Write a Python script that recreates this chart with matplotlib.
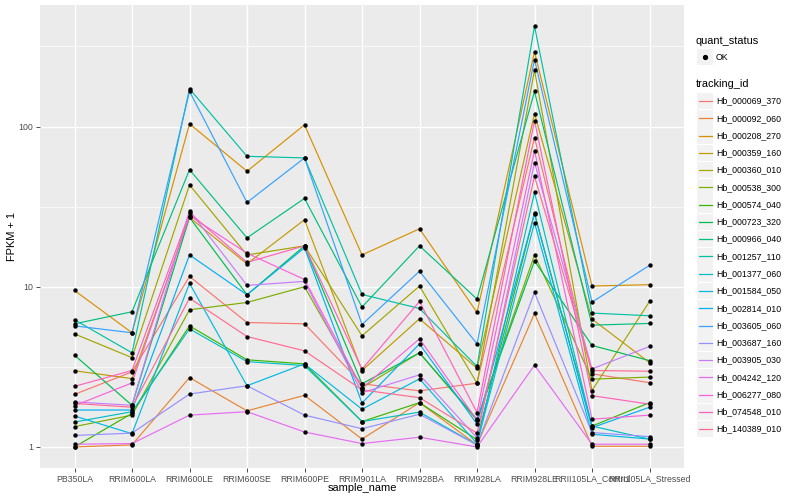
import numpy as np
import matplotlib
matplotlib.use('Agg')
import matplotlib.pyplot as plt
from matplotlib.lines import Line2D
from matplotlib.patches import Rectangle

plt.rcParams['font.family'] = ['Liberation Sans', 'DejaVu Sans']

samples = ['PB350LA', 'RRIM600LA', 'RRIM600LE', 'RRIM600SE', 'RRIM600PE', 'RRIM901LA',
           'RRIM928BA', 'RRIM928LA', 'RRIM928LE', 'RRII105LA_Control', 'RRII105LA_Stressed']

tracking_ids = ['Hb_000069_370', 'Hb_000092_060', 'Hb_000208_270', 'Hb_000359_160',
                'Hb_000360_010', 'Hb_000538_300', 'Hb_000574_040', 'Hb_000723_320',
                'Hb_000966_040', 'Hb_001257_110', 'Hb_001377_060', 'Hb_001584_050',
                'Hb_002814_010', 'Hb_003605_060', 'Hb_003687_160', 'Hb_003905_030',
                'Hb_004242_120', 'Hb_006277_080', 'Hb_074548_010', 'Hb_140389_010']

# ggplot hue palette for 20 levels
colors = ['#F8766D', '#EA8331', '#D89000', '#C09B00', '#A3A500', '#7CAE00', '#39B600',
          '#00BB4E', '#00BF7D', '#00C1A3', '#00BFC4', '#00BAE0', '#00B0F6', '#35A2FF',
          '#9590FF', '#C77CFF', '#E76BF3', '#FA62DB', '#FF62BC', '#FF6C91']

# FPKM + 1, one list per tracking_id, in sample order
hb_000069_370 = [2.13, 2.94, 11.6, 5.98, 5.87, 2.48, 2.24, 2.50, 85.3, 2.86, 2.52]
hb_000092_060 = [1.00, 1.03, 2.71, 1.68, 2.10, 1.12, 1.89, 1.03, 6.81, 1.01, 1.01]
hb_000208_270 = [9.48, 5.16, 104, 52.6, 102.5, 15.8, 23.0, 6.91, 293, 10.1, 10.3]
hb_000359_160 = [2.99, 2.67, 27.1, 13.9, 26.2, 3.00, 6.31, 3.10, 120.6, 6.28, 3.36]
hb_000360_010 = [5.08, 3.61, 43.2, 15.8, 18.0, 4.94, 10.1, 2.50, 225, 2.25, 8.09]
hb_000538_300 = [1.34, 1.58, 7.18, 7.98, 10.0, 2.34, 3.87, 1.47, 15.8, 2.65, 2.73]
hb_000574_040 = [1.00, 1.62, 5.70, 3.50, 3.30, 1.44, 1.89, 1.11, 28.7, 1.35, 1.89]
hb_000723_320 = [3.74, 1.82, 27.1, 8.91, 18.0, 2.48, 3.87, 1.49, 14.5, 4.30, 3.46]
hb_000966_040 = [5.87, 6.98, 53.8, 20.2, 35.6, 7.47, 18.0, 8.38, 165.5, 5.76, 5.90]
hb_001257_110 = [6.22, 3.87, 172, 65.2, 63.7, 8.95, 7.32, 3.18, 424, 6.85, 6.59]
hb_001377_060 = [1.43, 1.66, 5.46, 3.41, 3.22, 1.44, 1.65, 1.03, 38.8, 1.35, 1.12]
hb_001584_050 = [1.56, 1.21, 10.5, 2.41, 3.30, 1.72, 2.66, 1.05, 25.1, 1.20, 1.12]
hb_002814_010 = [1.70, 1.70, 15.8, 8.91, 17.5, 1.88, 4.40, 1.39, 28.6, 1.32, 1.77]
hb_003605_060 = [5.70, 5.16, 166, 33.6, 63.7, 5.81, 12.5, 4.40, 262, 8.02, 13.6]
hb_003687_160 = [1.18, 1.22, 2.14, 2.41, 1.58, 1.30, 1.60, 1.03, 9.21, 1.23, 1.16]
hb_003905_030 = [1.91, 1.82, 29.9, 10.2, 10.8, 2.18, 2.82, 1.14, 59.6, 3.07, 4.24]
hb_004242_120 = [1.04, 1.05, 1.58, 1.66, 1.24, 1.05, 1.15, 1.00, 3.24, 1.04, 1.04]
hb_006277_080 = [1.81, 2.51, 27.8, 16.2, 11.1, 2.33, 4.73, 1.47, 70.8, 1.49, 1.58]
hb_074548_010 = [2.39, 3.00, 28.9, 14.2, 18.0, 3.06, 8.09, 1.64, 109, 2.09, 1.85]
hb_140389_010 = [1.87, 1.77, 8.48, 4.89, 3.98, 2.27, 2.03, 1.22, 48.9, 3.00, 2.97]

series = [hb_000069_370, hb_000092_060, hb_000208_270, hb_000359_160, hb_000360_010,
          hb_000538_300, hb_000574_040, hb_000723_320, hb_000966_040, hb_001257_110,
          hb_001377_060, hb_001584_050, hb_002814_010, hb_003605_060, hb_003687_160,
          hb_003905_030, hb_004242_120, hb_006277_080, hb_074548_010, hb_140389_010]

W, H = 800, 500
fig = plt.figure(figsize=(8, 5), dpi=100)
ax = fig.add_axes([40 / W, 1 - 468 / H, 644 / W, 463 / H])
ax.set_facecolor('#EBEBEB')

x = np.arange(len(samples))
for vals, c in zip(series, colors):
    ax.plot(x, vals, color=c, lw=0.85, zorder=3)
for vals in series:
    ax.scatter(x, vals, s=10, color='black', zorder=4, linewidths=0)

ax.set_yscale('log')
allv = np.log10(np.concatenate([np.array(s, dtype=float) for s in series]))
lo, hi = allv.min(), allv.max()
pad = 0.05 * (hi - lo)
ax.set_ylim(10 ** (lo - pad), 10 ** (hi + pad))
ax.set_xlim(-0.6, len(samples) - 0.4)

ax.set_yticks([1, 10, 100])
ax.set_yticklabels(['1', '10', '100'])
ax.set_yticks([10 ** 0.5, 10 ** 1.5, 10 ** 2.5], minor=True)
ax.yaxis.set_minor_formatter(plt.NullFormatter())
ax.set_xticks(x)
ax.set_xticklabels(samples)

ax.grid(which='major', color='white', lw=1.0)
ax.grid(which='minor', axis='y', color='white', lw=0.5)
ax.set_axisbelow(True)
for sp in ax.spines.values():
    sp.set_visible(False)
ax.tick_params(which='major', length=2.7, width=0.6, color='#333333',
               labelsize=6.3, labelcolor='#4D4D4D', pad=2)
ax.tick_params(which='minor', length=0)

ax.set_xlabel('sample_name', fontsize=7.9)
ax.set_ylabel('FPKM + 1', fontsize=7.9)
ax.xaxis.set_label_coords(0.5, -(488 - 468) / 463)
ax.yaxis.set_label_coords(-(40 - 12) / 644, 0.5)
ax.xaxis.label.set_va('center')
ax.yaxis.label.set_va('center')

# legends, drawn ggplot style on the right
def fx(px):
    return px / W

def fy(py):
    return 1 - py / H

fig.text(fx(696), fy(41), 'quant_status', fontsize=7.9, va='center', ha='left')
fig.patches.append(Rectangle((fx(697), fy(65)), 16 / W, 16 / H, transform=fig.transFigure,
                             facecolor='#F2F2F2', edgecolor='none'))
fig.lines.append(Line2D([fx(705)], [fy(57)], marker='o', markersize=2.8, color='black',
                        linestyle='none', transform=fig.transFigure))
fig.text(fx(716), fy(57), 'OK', fontsize=6.3, va='center', ha='left')

fig.text(fx(696), fy(84), 'tracking_id', fontsize=7.9, va='center', ha='left')
for k, (name, c) in enumerate(zip(tracking_ids, colors)):
    yc = 101 + 17.27 * k
    fig.patches.append(Rectangle((fx(697), fy(yc + 8.3)), 16 / W, 16.6 / H,
                                 transform=fig.transFigure, facecolor='#F2F2F2',
                                 edgecolor='none'))
    fig.lines.append(Line2D([fx(698.5), fx(711.5)], [fy(yc), fy(yc)], color=c, lw=0.9,
                            transform=fig.transFigure))
    fig.text(fx(716), fy(yc), name, fontsize=6.3, va='center', ha='left')

fig.savefig('out.png', dpi=100)
